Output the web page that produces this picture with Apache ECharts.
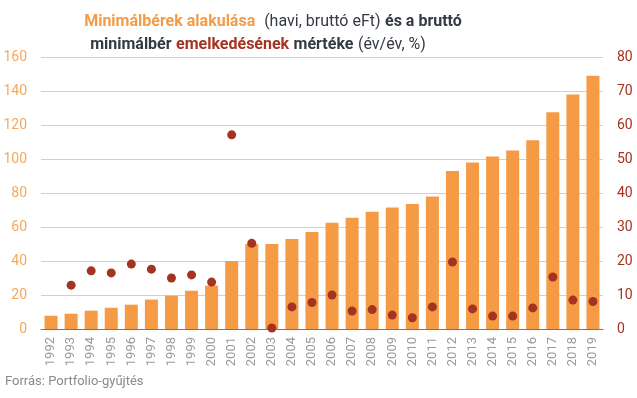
<!DOCTYPE html>
<html>
<head>
<meta charset="utf-8">
<script src="https://cdn.jsdelivr.net/npm/echarts@6/dist/echarts.min.js"></script>
<style>
  html, body { margin: 0; padding: 0; background: #fff; }
  #chart { width: 637px; height: 398px; }
</style>
</head>
<body>
<div id="chart"></div>
<script>
// adatok
const years = ['1992','1993','1994','1995','1996','1997','1998','1999','2000','2001',
  '2002','2003','2004','2005','2006','2007','2008','2009','2010','2011',
  '2012','2013','2014','2015','2016','2017','2018','2019'];
// minimálbér, havi bruttó eFt
const wage = [7.8, 9.0, 10.8, 12.5, 14.3, 17.3, 19.6, 22.5, 25.5, 40.0,
  50.0, 50.0, 53.0, 57.0, 62.5, 65.5, 69.0, 71.5, 73.5, 78.0,
  93.0, 98.0, 101.5, 105.0, 111.0, 127.5, 138.0, 149.0];
// emelkedés mértéke, év/év %
const growth = [null, 12.9, 17.1, 16.5, 19.1, 17.6, 15.0, 15.9, 13.8, 57.1,
  25.2, 0.3, 6.5, 7.8, 10.0, 5.3, 5.7, 4.1, 3.3, 6.5,
  19.7, 5.9, 3.8, 3.8, 6.2, 15.3, 8.5, 8.1];
const leftTicks = [0, 160, 20];
const rightTicks = [0, 80, 10];

const orange = '#F59B46';
const red = '#A53321';
const dark = '#333a44';

const rich = {
  o: { color: orange, fontWeight: 'bold', fontSize: 16, fontFamily: 'Roboto' },
  n: { color: dark, fontWeight: 'normal', fontSize: 16, fontFamily: 'Roboto' },
  b: { color: dark, fontWeight: 'bold', fontSize: 16, fontFamily: 'Roboto' },
  r: { color: red, fontWeight: 'bold', fontSize: 16, fontFamily: 'Roboto' }
};

let myChart = echarts.init(document.getElementById('chart'));
myChart.setOption({
  animation: false,
  textStyle: { fontFamily: 'Roboto' },
  title: [{
    left: 268, textAlign: 'center', top: 8,
    text: '{o|Minimálbérek alakulása}  {n|(havi, bruttó eFt)} {b|és a bruttó}',
    textStyle: { fontWeight: 'normal', rich: rich }
  }, {
    left: 253, textAlign: 'center', top: 31,
    text: '{b|minimálbér} {r|emelkedésének} {b|mértéke} {n|(év/év, %)}',
    textStyle: { fontWeight: 'normal', rich: rich }
  }],
  graphic: [{
    type: 'text',
    left: 5,
    top: 375,
    style: { text: 'Forrás: Portfolio-gyűjtés', fill: '#8a8a8a', font: '13px Roboto' }
  }],
  grid: { left: 41, right: 34, top: 57, bottom: 69 },
  xAxis: {
    type: 'category',
    data: years,
    axisTick: { show: false },
    axisLine: { lineStyle: { color: '#777', width: 1 } },
    axisLabel: { rotate: 90, color: '#9a9a9a', fontSize: 13, interval: 0, margin: 8 }
  },
  yAxis: [{
    type: 'value',
    min: leftTicks[0], max: leftTicks[1], interval: leftTicks[2],
    axisLabel: { color: '#F5A85E', fontSize: 14, margin: 14 },
    splitLine: { lineStyle: { color: '#d0d0d0' } },
    axisLine: { show: false }, axisTick: { show: false }
  }, {
    type: 'value',
    min: rightTicks[0], max: rightTicks[1], interval: rightTicks[2],
    axisLabel: { color: red, fontSize: 14, margin: 14 },
    splitLine: { show: false },
    axisLine: { show: false }, axisTick: { show: false }
  }],
  series: [{
    type: 'bar',
    name: 'Minimálbér',
    data: wage,
    barWidth: 13,
    itemStyle: { color: orange }
  }, {
    type: 'scatter',
    name: 'Emelkedés',
    yAxisIndex: 1,
    data: growth,
    symbolSize: 9,
    itemStyle: { color: red, opacity: 1 }
  }]
});
</script>
</body>
</html>
